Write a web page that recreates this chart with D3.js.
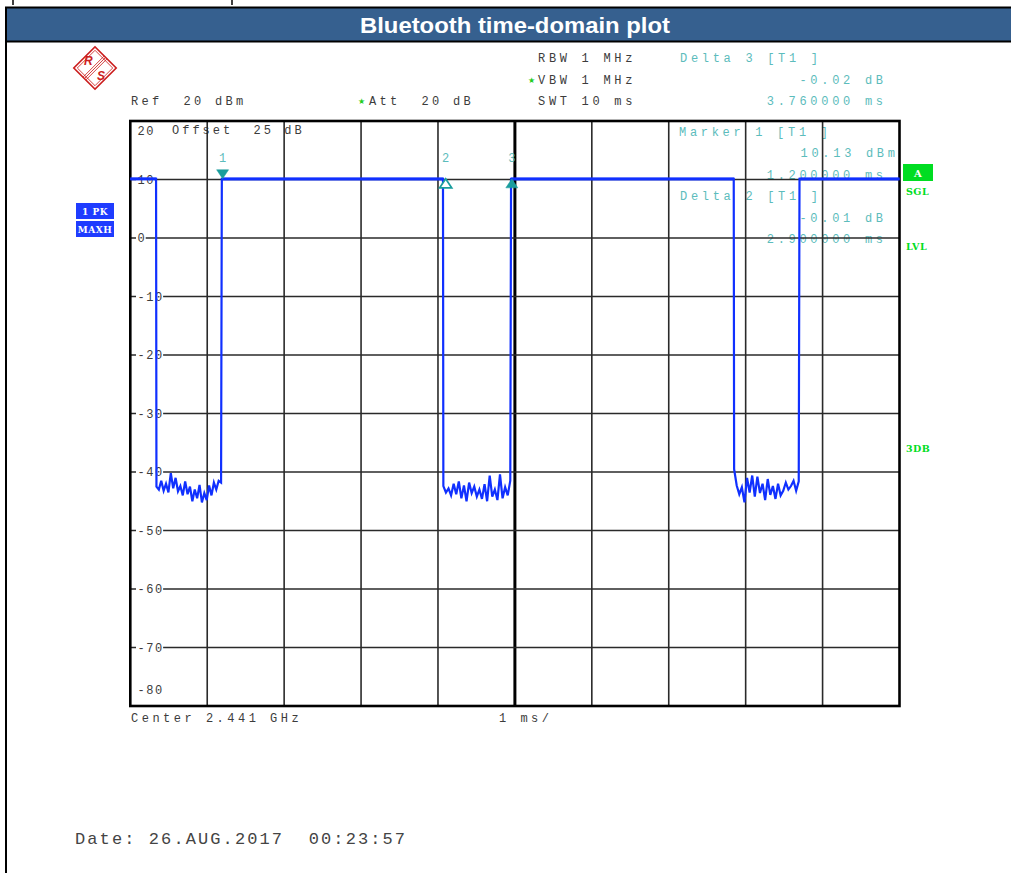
<!DOCTYPE html>
<html>
<head>
<meta charset="utf-8">
<script src="https://cdn.jsdelivr.net/npm/d3@7"></script>
<style>
  body { margin: 0; background: #fff; }
  svg { display: block; }
  svg text { white-space: pre; }
</style>
</head>
<body>
<svg id="chart" width="1011" height="873"></svg>
<script>
// sweep: 10 ms span, ref 20 dBm, 10 dB/div
const sweepTime = [0, 10];
const levelRange = [-80, 20];
const yTicks = [20, 10, 0, -10, -20, -30, -40, -50, -60, -70, -80];
const xTicks = [0, 1, 2, 3, 4, 5, 6, 7, 8, 9, 10];

const burstLevel = 10.1;
const burstOff = [0.34, 4.07, 7.85];   // ms where the carrier drops
const burstOn = [1.19, 4.95, 8.70];    // ms where it comes back

// noise floor between bursts (max hold), dBm
const gap1 = [-42.5, -43, -41.5, -43.2, -42, -43.5, -40.2, -42.8, -41, -43.3, -42.4, -44, -41.6, -43.8,
  -42.5, -45, -43, -44.5, -42.2, -45.2, -43.6, -44.8, -42.3, -44, -41.8, -43, -41.5, -41.8];
const gap2 = [-42.4, -43.5, -42.8, -44, -42, -43.8, -41.6, -44.5, -42.3, -45, -41.8, -43.6, -42.5, -44.2,
  -43, -44.6, -42.1, -45, -40.6, -44.2, -43, -44.8, -40.4, -44.5, -42.6, -44, -41.5];
const gap3 = [-39.5, -42.3, -43.8, -42.6, -45.2, -41, -43.5, -40.6, -44.2, -40.8, -43.6, -42, -44.8, -41.2,
  -43.9, -42.4, -44.6, -42, -44, -43.2, -41.8, -43, -42.4, -41.5, -43.2, -41.6];
const gaps = [gap1, gap2, gap3];

// markers: time ms, level dBm
const markers = [
  { id: 1, t: 1.2, v: 10.13, dir: "down", fill: true },
  { id: 2, t: 4.1, v: 10.12, dir: "up", fill: false },
  { id: 3, t: 4.96, v: 10.11, dir: "up", fill: true }
];

const headerLeft = ["Ref  20 dBm"];
const headerMid = ["RBW 1 MHz", "VBW 1 MHz", "SWT 10 ms"];
const headerRight = ["Delta 3 [T1 ]", "-0.02 dB", "3.760000 ms"];
const markerBox1 = ["Marker 1 [T1 ]", "10.13 dBm", "1.200000 ms"];
const markerBox2 = ["Delta 2 [T1 ]", "-0.01 dB", "2.900000 ms"];

const svg = d3.select("#chart");
const mono = "'Liberation Mono', 'DejaVu Sans Mono', monospace";
const grayText = "#3c3c3c";
const cyanText = "#5cbcbc";
const green = "#00dd22";

const x = d3.scaleLinear().domain(sweepTime).range([130.3, 899.5]);
const y = d3.scaleLinear().domain(levelRange).range([706, 121]);

// ---- frame of the page
svg.append("line").attr("x1", 13).attr("x2", 13).attr("y1", 0).attr("y2", 5).attr("stroke", "#000").attr("stroke-width", 1.5);
svg.append("line").attr("x1", 232).attr("x2", 232).attr("y1", 0).attr("y2", 5).attr("stroke", "#000").attr("stroke-width", 1.5);
svg.append("rect").attr("x", 6).attr("y", 7.5).attr("width", 1010).attr("height", 34)
  .attr("fill", "#36608f").attr("stroke", "#000").attr("stroke-width", 2);
svg.append("text").attr("x", 360).attr("y", 33)
  .attr("textLength", 310).attr("lengthAdjust", "spacingAndGlyphs")
  .attr("fill", "#fff").attr("font-family", "'Liberation Sans', Arial, sans-serif")
  .attr("font-weight", "bold").attr("font-size", 22).text("Bluetooth time-domain plot");
svg.append("line").attr("x1", 6).attr("x2", 6).attr("y1", 42).attr("y2", 873).attr("stroke", "#000").attr("stroke-width", 2);

// ---- R&S logo
const logo = svg.append("g").attr("transform", "translate(95,68) rotate(45)");
logo.append("rect").attr("x", -15).attr("y", -15).attr("width", 30).attr("height", 30)
  .attr("fill", "none").attr("stroke", "#cc1f1f").attr("stroke-width", 1.6);
logo.append("rect").attr("x", -12.5).attr("y", -12.5).attr("width", 25).attr("height", 25)
  .attr("fill", "none").attr("stroke", "#cc1f1f").attr("stroke-width", 0.8);
[-2, 0, 2].forEach(d => {
  logo.append("line").attr("x1", d).attr("x2", d).attr("y1", -15).attr("y2", 15)
    .attr("stroke", "#cc1f1f").attr("stroke-width", 0.8);
});
svg.append("text").attr("x", 84).attr("y", 65).attr("fill", "#cc1f1f").attr("font-family", "'Liberation Sans', Arial")
  .attr("font-weight", "bold").attr("font-style", "italic").attr("font-size", 12).text("R");
svg.append("text").attr("x", 97).attr("y", 80).attr("fill", "#cc1f1f").attr("font-family", "'Liberation Sans', Arial")
  .attr("font-weight", "bold").attr("font-style", "italic").attr("font-size", 12).text("S");

// helper for the letter-spaced instrument text
function label(txt, px, py, color, anchor, spacing) {
  const ls = spacing === undefined ? 3.7 : spacing;
  // chrome adds the spacing after the last glyph too
  const shift = anchor === "end" ? ls : 0;
  return svg.append("text")
    .attr("x", px + shift).attr("y", py)
    .attr("text-anchor", anchor || "start")
    .attr("font-family", mono).attr("font-size", 12)
    .attr("letter-spacing", ls)
    .attr("fill", color).text(txt);
}

function star(px, py) {
  svg.append("text").attr("x", px).attr("y", py).attr("fill", "#22cc22")
    .attr("font-family", "'DejaVu Sans'").attr("font-size", 8).text("★");
}

// ---- header texts
label(headerLeft[0], 131, 105, grayText, "start", 3.3);
star(358, 104);
label("Att  20 dB", 369, 105, grayText, "start", 3.3);
headerMid.forEach((t, i) => label(t, 538, 62 + i * 21.5, grayText));
star(528, 83);
label(headerRight[0], 680, 62, cyanText);
label(headerRight[1], 883, 84, cyanText, "end");
label(headerRight[2], 883, 105, cyanText, "end");

// ---- texts that sit inside the graticule (grid draws over them)
label("Offset  25 dB", 172, 134, grayText, "start", 3.0);
label(markerBox1[0], 679, 136, cyanText);
label(markerBox1[1], 895, 157, cyanText, "end");
label(markerBox1[2], 883, 179, cyanText, "end");
label(markerBox2[0], 680, 200, cyanText);
label(markerBox2[1], 883, 222, cyanText, "end");
label(markerBox2[2], 883, 243, cyanText, "end");

// ---- grid
const grid = svg.append("g");
grid.selectAll(".vline").data(xTicks.slice(1, -1)).enter().append("line")
  .attr("x1", d => x(d)).attr("x2", d => x(d))
  .attr("y1", y(20)).attr("y2", y(-80))
  .attr("stroke", d => d === 5 ? "#000" : "#2a2a2a")
  .attr("stroke-width", d => d === 5 ? 3 : 1.6);
grid.selectAll(".hline").data(yTicks.slice(1, -1)).enter().append("line")
  .attr("x1", x(0)).attr("x2", x(10))
  .attr("y1", d => y(d)).attr("y2", d => y(d))
  .attr("stroke", "#2a2a2a").attr("stroke-width", 1.6);
svg.append("rect").attr("x", x(0)).attr("y", y(20)).attr("width", x(10) - x(0)).attr("height", y(-80) - y(20))
  .attr("fill", "none").attr("stroke", "#000").attr("stroke-width", 2.6);

// level labels
yTicks.forEach(t => {
  let py = y(t) + 4;
  if (t === 20) py = y(20) + 14;
  if (t === -80) py = y(-80) - 12;
  const g = svg.append("g");
  const txt = g.append("text").attr("x", 137.5).attr("y", py)
    .attr("font-family", mono).attr("font-size", 12).attr("letter-spacing", 1.5)
    .attr("fill", grayText).text(t);
  const bb = txt.node().getBBox();
  if (t !== 20 && t !== -80) {
    g.insert("rect", "text").attr("x", bb.x - 1.5).attr("y", y(t) - 2)
      .attr("width", bb.width + 1).attr("height", 4).attr("fill", "#fff");
  }
});

// ---- trace
const trace = [[sweepTime[0], burstLevel]];
gaps.forEach((g, k) => {
  trace.push([burstOff[k] - 0.005, burstLevel]);
  const step = (burstOn[k] - 0.01 - burstOff[k]) / (g.length - 1);
  g.forEach((v, i) => trace.push([burstOff[k] + i * step, v]));
  trace.push([burstOn[k], burstLevel]);
});
trace.push([sweepTime[1], burstLevel]);

const line = d3.line().x(d => x(d[0])).y(d => y(d[1]));
svg.append("path").datum(trace)
  .attr("d", line)
  .attr("fill", "none")
  .attr("stroke", "#1030ff")
  .attr("stroke-width", 2.2)
  .attr("stroke-linejoin", "miter");
// top level looks heavier on the screen
svg.selectAll(".top").data(d3.range(4)).enter().append("line")
  .attr("x1", i => x(i === 0 ? sweepTime[0] : burstOn[i - 1]))
  .attr("x2", i => x(i === 3 ? sweepTime[1] : burstOff[i]))
  .attr("y1", y(burstLevel)).attr("y2", y(burstLevel))
  .attr("stroke", "#1030ff").attr("stroke-width", 3);

// ---- markers
markers.forEach(m => {
  const mx = x(m.t), my = y(m.v);
  const tri = m.dir === "down"
    ? [[mx - 6, my - 9], [mx + 6, my - 9], [mx, my]]
    : [[mx - 6, my + 9], [mx + 6, my + 9], [mx, my]];
  svg.append("path").attr("d", "M" + tri.join("L") + "Z")
    .attr("fill", m.fill ? "#1a9d9d" : "#fff")
    .attr("stroke", "#1a9d9d").attr("stroke-width", m.fill ? 0.5 : 1.8);
  svg.append("text").attr("x", mx).attr("y", y(20) + 41)
    .attr("text-anchor", "middle").attr("font-family", mono).attr("font-size", 12)
    .attr("fill", cyanText).text(m.id);
});

// ---- footer
label("Center 2.441 GHz", 131, 722, grayText, "start", 3.5);
label("1 ms/", 499, 722, grayText, "start", 3.5);
svg.append("text").attr("x", 75).attr("y", 844)
  .attr("font-family", mono).attr("font-size", 17).attr("letter-spacing", 2.1)
  .attr("fill", "#444").text("Date: 26.AUG.2017  00:23:57");

// ---- side annotations
const serif = "'DejaVu Serif', 'Liberation Serif', serif";
[["1 PK", 203], ["MAXH", 221]].forEach(([t, top]) => {
  svg.append("rect").attr("x", 76).attr("y", top).attr("width", 38).attr("height", 16).attr("fill", "#1f3cff");
  svg.append("text").attr("x", 95).attr("y", top + 11.5).attr("text-anchor", "middle")
    .attr("font-family", serif).attr("font-weight", "bold").attr("font-size", 9)
    .attr("letter-spacing", 0.5).attr("fill", "#fff").text(t);
});
svg.append("rect").attr("x", 903).attr("y", 164).attr("width", 30).attr("height", 17).attr("fill", green);
svg.append("text").attr("x", 918).attr("y", 177).attr("text-anchor", "middle")
  .attr("font-family", serif).attr("font-weight", "bold").attr("font-size", 10)
  .attr("fill", "#fff").text("A");
[["SGL", 195], ["LVL", 250], ["3DB", 452]].forEach(([t, py]) => {
  svg.append("text").attr("x", 906).attr("y", py)
    .attr("font-family", serif).attr("font-weight", "bold").attr("font-size", 9.5)
    .attr("letter-spacing", 0.5).attr("fill", green).text(t);
});
</script>
</body>
</html>
